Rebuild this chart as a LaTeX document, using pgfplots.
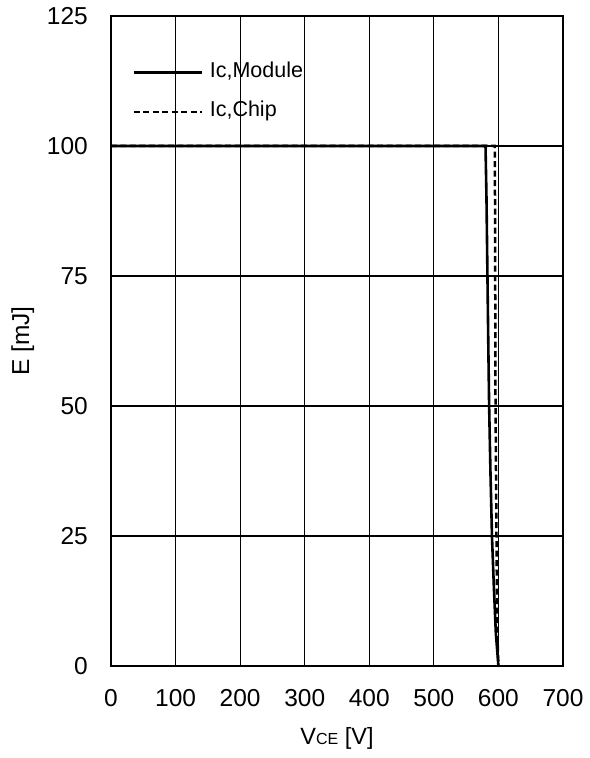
\documentclass[border=0pt]{standalone}
\usepackage{fontspec}
\setmainfont{Liberation Sans}
\usepackage{pgfplots}
\pgfplotsset{compat=1.18}

% switching energy vs. collector-emitter voltage
\begin{document}
\begin{tikzpicture}
\useasboundingbox (-111bp,-92bp) rectangle (479bp,666bp);
\begin{axis}[
  at={(0,0)}, anchor=south west,
  scale only axis, width=452bp, height=650bp,
  xmin=0, xmax=700, ymin=0, ymax=125,
  xtick={0,100,...,700}, ytick={0,25,...,125},
  grid=major,
  major grid style={black, line width=1.2bp},
  axis line style={black, line width=2.4bp},
  major tick length=0pt,
  /pgf/number format/assume math mode=true,
  tick label style={font=\fontsize{24.5bp}{28bp}\selectfont, inner sep=0pt},
  xticklabel style={yshift=-23bp},
  yticklabel style={xshift=-23bp},
  xlabel={V{\fontsize{16bp}{19bp}\selectfont CE} [V]},
  ylabel={E [mJ]},
  xlabel style={font=\fontsize{23.5bp}{27bp}\selectfont,
    at={(axis description cs:0.5,-0.111)}, anchor=center},
  ylabel style={font=\fontsize{24.5bp}{28bp}\selectfont,
    at={(axis description cs:-0.195,0.5)}, anchor=center},
  legend cell align=left,
  legend image code/.code={\draw[#1] (0bp,-2.5bp) -- (68bp,-2.5bp);},
  legend style={draw=none, fill=none, inner sep=0pt,
    at={(axis description cs:0.0465,0.930)}, anchor=north west,
    font=\fontsize{21.5bp}{25bp}\selectfont,
    nodes={inner sep=0pt},
    row sep=22bp,
    /tikz/every odd column/.style={column sep=7bp}},
]
\addplot[black, line width=2.6bp] coordinates {
  (0,100) (580,100) (581.5,90) (583,75) (584.3,62) (585.6,50)
  (587.7,37) (590,25) (593,15) (596,6.3) (600,0)
};
\addlegendentry{Ic,Module}
\addplot[black, line width=2.5bp, dash pattern=on 6bp off 3.5bp] coordinates {
  (0,100) (594.5,100) (595,75) (595.5,50) (597,25) (598,8) (600,0)
};
\addlegendentry{Ic,Chip}
\end{axis}
\end{tikzpicture}
\end{document}
